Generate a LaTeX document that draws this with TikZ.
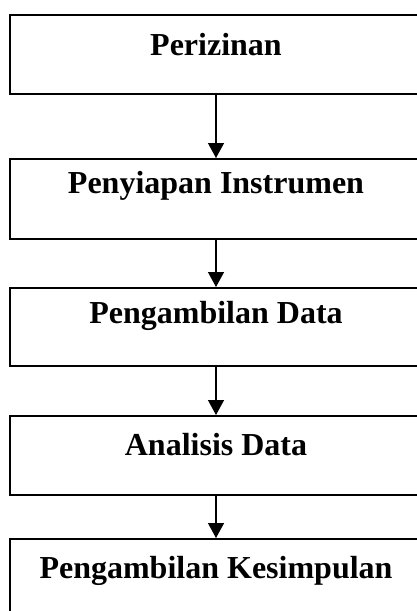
\documentclass[tikz,border=0pt]{standalone}
\usepackage{fontspec}
\setmainfont{Liberation Serif}
\usetikzlibrary{arrows.meta}
\begin{document}
\begin{tikzpicture}[x=1pt,y=-1pt,
  stage/.style={draw, line width=1.6pt, rectangle, minimum width=412pt, anchor=north, inner sep=0pt},
  caption/.style={font=\fontsize{32}{38}\selectfont\bfseries, inner sep=0pt, anchor=center},
  flow/.style={line width=1.4pt, -{Triangle[width=16pt,length=15pt]}}]
  \useasboundingbox (0,0) rectangle (417,611);
  % stage boxes (right edges and the last bottom run past the page)
  \node[stage, minimum height=79pt] (b1) at (216,14) {};
  \node[stage, minimum height=80pt] (b2) at (216,158) {};
  \node[stage, minimum height=78pt] (b3) at (216,287) {};
  \node[stage, minimum height=79pt] (b4) at (216,415) {};
  \node[stage, minimum height=80pt] (b5) at (216,538) {};
  % captions
  \node[caption] (t1) at ([yshift=-31pt]b1.north) {Perizinan};
  \node[caption] (t2) at ([yshift=-28pt]b2.north) {Penyiapan Instrumen};
  \node[caption] (t3) at ([yshift=-29pt]b3.north) {Pengambilan Data};
  \node[caption] (t4) at ([yshift=-30pt]b4.north) {Analisis Data};
  \node[caption] (t5) at ([yshift=-33pt]b5.north) {Pengambilan Kesimpulan};
  % flow arrows
  \draw[flow] (b1.south) -- (b2.north);
  \draw[flow] (b2.south) -- (b3.north);
  \draw[flow] (b3.south) -- (b4.north);
  \draw[flow] (b4.south) -- (b5.north);
\end{tikzpicture}
\end{document}
